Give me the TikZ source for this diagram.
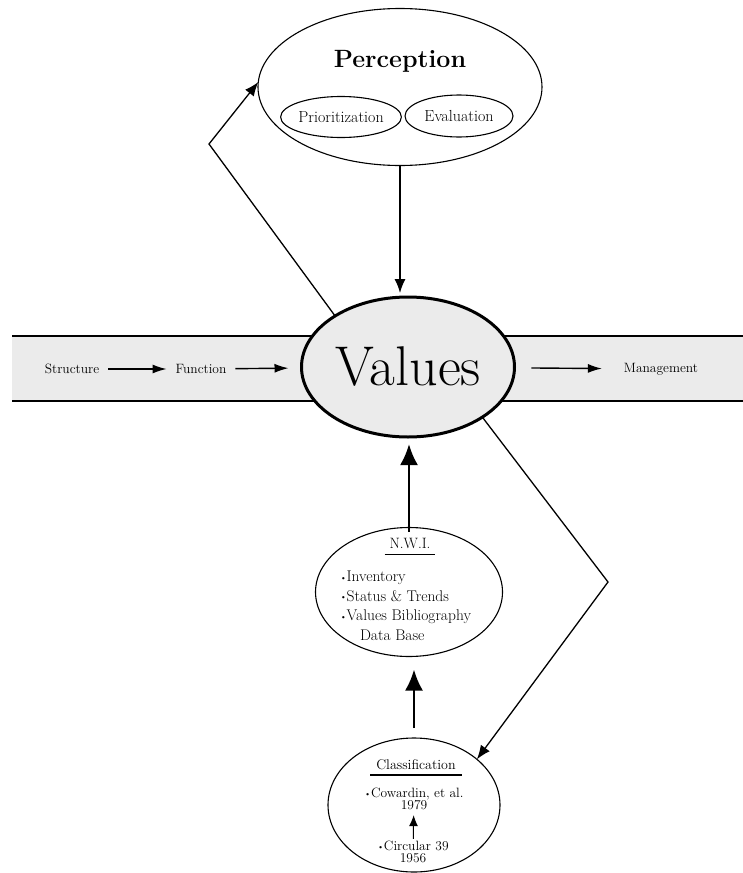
\documentclass[tikz,border=0pt]{standalone}
\usepackage{fontspec}
\usetikzlibrary{shapes.geometric,arrows.meta}
\newcommand{\bul}{\raisebox{0.2ex}{\fontsize{8}{8}\selectfont\textbullet}}

\begin{document}
\begin{tikzpicture}[x=1pt,y=-1pt,inner sep=0pt,outer sep=0pt,
ell/.style={draw,ellipse,line width=1.1pt},
lbl/.style={font=\fontsize{13.5}{15}\selectfont},
harr/.style={-{Latex[length=14pt,width=9pt]},line width=1.4pt},
bigarr/.style={-{Latex[length=21pt,width=18pt]},line width=2.6pt},
bendarr/.style={-{Latex[length=14pt,width=11pt]},line width=1.3pt}]
\useasboundingbox (0,0) rectangle (743,873);
% band behind Values
\fill[black!8] (12,336) rectangle (743,401);
\draw[line width=1.5pt] (12,336) -- (743,336) (12,401) -- (743,401);
% top
\draw (400,87) node[ell,minimum width=284pt,minimum height=157pt] (perc) {};
\draw (400,61) node[font=\fontsize{25}{29}\selectfont\bfseries\addfontfeature{LetterSpace=5}] (perctxt) {Perception};
\draw (341,117) node[ell,minimum width=108pt,minimum height=41pt,font=\fontsize{16}{18}\selectfont] (prio) {Prioritization};
\draw (459,116) node[ell,minimum width=108pt,minimum height=42pt,font=\fontsize{16}{18}\selectfont] (eval) {Evaluation};
% middle
\draw (408,367) node[draw,ellipse,line width=3pt,fill=black!8,minimum width=213pt,minimum height=140pt,font=\fontsize{56}{60}\selectfont] (val) {Values};
\draw (72,369) node[lbl,inner xsep=9pt] (struc) {Structure};
\draw (201,369) node[lbl,inner xsep=9pt] (func) {Function};
\draw (661,369) node[lbl] (mgmt) {Management};
\draw[harr] (struc) -- (func);
\draw[harr,shorten >=13pt] (func) -- (val);
\draw[harr,shorten <=17pt,shorten >=22pt] (val) -- (mgmt);
% bottom
\draw (409,592) node[ell,minimum width=187pt,minimum height=129pt] (nwi) {};
\draw (410,546) node[font=\fontsize{15}{17}\selectfont] (nwihead) {\setlength{\arrayrulewidth}{1.3pt}\begin{tabular}{@{\hspace{5pt}}c@{\hspace{5pt}}}N.W.I.\\\hline\end{tabular}};
\draw (340,571) node[anchor=north west,align=left,font=\fontsize{15.5}{19.5}\selectfont] (nwilist) {\bul Inventory\\\bul Status \& Trends\\\bul Values Bibliography\\\hspace{20pt}Data Base};
\draw (414,805) node[ell,minimum width=172pt,minimum height=134pt] (cls) {};
\draw (416,767) node[font=\fontsize{14}{16}\selectfont] (clshead) {\setlength{\arrayrulewidth}{0.7pt}\setlength{\doublerulesep}{1.5pt}\begin{tabular}{@{\hspace{6pt}}c@{\hspace{6pt}}}Classification\\\hline\hline\end{tabular}};
\draw (414,799) node[align=center,font=\fontsize{13.5}{12.5}\selectfont] (cow) {\bul Cowardin, et al.\\1979};
\draw (413,852) node[align=center,font=\fontsize{13.5}{12.5}\selectfont] (cir) {\bul Circular 39\\1956};
\draw[-{Latex[length=11pt,width=9pt]},line width=1pt,shorten <=2pt,shorten >=5pt] (cir) -- (cow);
% connectors
\draw[bendarr,shorten >=4pt] (perc.south) -- (perc.south |- val.north);
\coordinate (kneeL) at (209,144);
\coordinate (kneeR) at (608,582);
\draw[bendarr] (val.145) -- (kneeL) -- (perc.178);
\draw[bendarr] (val.-34) -- (kneeR) -- (cls.36);
\draw[bigarr,shorten <=-4pt,shorten >=7pt] (nwi.north) -- (nwi.north |- val.south);
\draw[bigarr,shorten <=10pt,shorten >=13pt] (cls.north) -- (cls.north |- nwi.south);
\end{tikzpicture}
\end{document}
